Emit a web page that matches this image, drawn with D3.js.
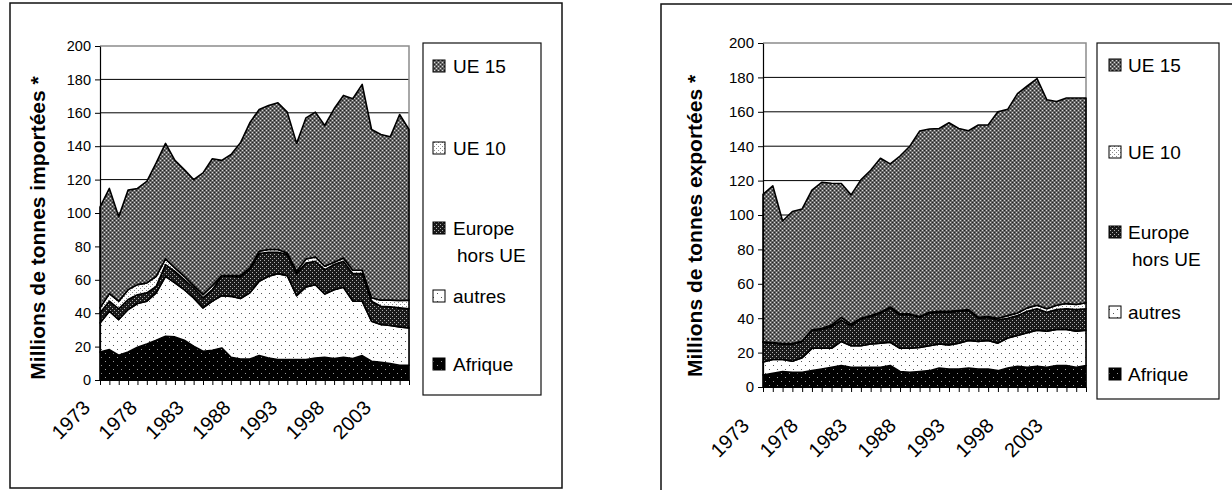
<!DOCTYPE html>
<html><head><meta charset="utf-8">
<script src="https://cdn.jsdelivr.net/npm/d3@7"></script>
<style>
body{margin:0;background:#fff}
svg text{font-family:"Liberation Sans",Arial,Helvetica,sans-serif;fill:#000}
</style>
</head><body>
<svg id="chart" width="1232" height="490"></svg>
<script>
// ---------- DATA ----------
const years = [1973,1974,1975,1976,1977,1978,1979,1980,1981,1982,1983,1984,1985,1986,1987,1988,1989,1990,1991,1992,1993,1994,1995,1996,1997,1998,1999,2000,2001,2002,2003,2004,2005,2006];
const yTicks = [0,20,40,60,80,100,120,140,160,180,200];
const xLabelYears = [1973,1978,1983,1988,1993,1998,2003];
const keys = ["Afrique","autres","Europe hors UE","UE 10","UE 15"];
const legendOrder = ["UE 15","UE 10","Europe hors UE","autres","Afrique"];

// Imports (millions de tonnes)
const impAfrique = [16.8,18.2,14.8,16.8,19.6,21.6,23.8,26.2,25.8,23.8,20.2,17.2,17.8,19.2,13.6,12.6,12.6,14.6,13.2,12.2,12.2,12.2,12.2,13.2,13.6,12.8,13.6,12.8,14.6,11.2,10.6,9.8,8.8,8.8];
const impAutres  = [17.4,23.0,21.4,25.4,26.2,25.6,28.4,35.9,32.3,30.3,29.0,26.0,29.4,31.3,36.5,36.2,39.6,44.5,48.9,51.5,50.3,38.3,43.5,43.9,37.9,41.3,41.9,34.4,32.6,24.0,22.6,22.8,23.0,22.4];
const impEurope  = [6.0,6.0,6.4,6.0,5.3,5.0,3.9,7.0,7.0,6.0,5.9,6.0,6.9,11.6,12.0,12.9,13.9,16.6,14.4,12.8,12.6,13.2,14.4,14.0,14.6,15.0,15.6,16.5,16.5,12.0,11.0,11.2,11.4,11.4];
const impUE10    = [3.0,4.5,4.6,5.9,6.0,5.9,6.0,3.4,2.0,2.0,1.4,1.9,2.4,0.4,0.4,0.8,1.0,1.4,1.6,1.6,1.0,1.4,2.4,2.6,2.0,1.4,2.0,2.0,2.0,2.0,3.6,4.0,4.4,5.2];
const impUE15    = [60.3,63.0,50.5,59.6,57.6,60.9,67.9,69.2,64.4,63.9,63.5,72.9,76.0,69.0,72.5,79.5,86.9,84.9,86.3,87.9,84.3,76.6,84.5,86.7,84.3,91.9,97.3,102.7,111.3,100.8,99.2,97.8,111.4,102.2];

// Exports (millions de tonnes)
const expAfrique = [7,8,9,8.5,8.5,9.5,10.5,11.5,12.5,11.5,11.5,11.5,11.5,12.5,9,8.5,9,9.5,11,10.5,10.5,11,10.5,10.5,9.5,11,12,11.5,12,11.5,12.5,12.5,11.5,12.5];
const expAutres  = [7.5,8,7,6.5,8.5,13,12,11,14,12.5,12.5,13.5,14,13.5,13.5,14,14,14.5,14,14,15,16,16,16.5,16,17.5,18,20,21,21,21,21,21,20.5];
const expEurope  = [11.5,9.5,9,10,9.5,10.5,11,12.5,12.5,11.5,15.5,16,17.5,20,19.5,19.5,17.5,19,18.5,19,18.5,17.5,13.5,13.5,13.5,11.5,11.5,12.5,12.5,11,11.5,12,12.5,12.5];
const expUE10    = [0.3,0.3,0.3,0.3,0.3,0.3,0.5,1,1.5,1,0.5,0.5,0.5,0.5,0.5,0.5,0.5,0.5,0.5,0.5,0.5,0.5,0.5,0.5,1,1.5,1.5,2,2,2,2.5,3,3,3.5];
const expUE15    = [85.7,91.2,71.2,76.7,76.7,81.2,85,82.5,77.8,75.2,80.4,84.5,89.5,83.2,91.8,97.5,107.8,106.5,106.3,109.6,105.8,104,111.8,111.3,120,119.9,127.6,129,131.8,121.5,118.5,119.5,120,119];

function buildRows(a,b,c,d,e){
  return years.map((yr,i)=>({year:yr,"Afrique":a[i],"autres":b[i],"Europe hors UE":c[i],"UE 10":d[i],"UE 15":e[i]}));
}
const importRows = buildRows(impAfrique,impAutres,impEurope,impUE10,impUE15);
const exportRows = buildRows(expAfrique,expAutres,expEurope,expUE10,expUE15);

// ---------- DRAW ----------
const svg = d3.select("#chart");
const defs = svg.append("defs");
function pattern(id,size,bg,dots){
  const p = defs.append("pattern").attr("id",id).attr("width",size).attr("height",size)
    .attr("patternUnits","userSpaceOnUse");
  p.append("rect").attr("width",size).attr("height",size).attr("fill",bg);
  dots.forEach(([x,y,c])=>p.append("rect").attr("x",x).attr("y",y).attr("width",1).attr("height",1).attr("fill",c));
}
pattern("pUE15",4,"#666666",[[0,0,"#d6d6d6"],[2,2,"#d6d6d6"],[0,2,"#222"],[2,0,"#222"]]);
pattern("pUE10",4,"#ffffff",[[0,0,"#8a8a8a"],[2,2,"#8a8a8a"]]);
pattern("pEur",4,"#1a1a1a",[[0,0,"#b0b0b0"],[2,2,"#b0b0b0"]]);
pattern("pAut",8,"#ffffff",[[1,1,"#555"],[5,5,"#555"]]);
pattern("pAfr",8,"#000000",[[1,1,"#9a9a9a"],[5,5,"#9a9a9a"]]);
const fills = {"UE 15":"url(#pUE15)","UE 10":"url(#pUE10)","Europe hors UE":"url(#pEur)","autres":"url(#pAut)","Afrique":"url(#pAfr)"};

function panel(cfg, rows){
  const g = svg.append("g");
  g.append("rect").attr("x",cfg.frame[0]).attr("y",cfg.frame[1]).attr("width",cfg.frame[2]).attr("height",cfg.frame[3])
    .attr("fill","none").attr("stroke","#111").attr("stroke-width",1.5);

  const x = d3.scalePoint().domain(years).range([cfg.x0,cfg.x1]);
  const y = d3.scaleLinear().domain([0,200]).range([cfg.yb,cfg.yt]);

  // gridlines
  g.selectAll("line.grid").data(yTicks.filter(v=>v>0&&v<200)).join("line").attr("class","grid")
    .attr("x1",cfg.x0).attr("x2",cfg.x1).attr("y1",d=>y(d)).attr("y2",d=>y(d))
    .attr("stroke","#000").attr("stroke-width",1);
  g.append("path").attr("d",`M${cfg.x0},${y(200)}H${cfg.x1}V${y(0)}`)
    .attr("fill","none").attr("stroke","#8c8c8c").attr("stroke-width",1.5);

  const series = d3.stack().keys(keys)(rows);
  const area = d3.area().x(d=>x(d.data.year)).y0(d=>y(d[0])).y1(d=>y(d[1]));
  g.selectAll("path.area").data(series).join("path").attr("class","area")
    .attr("d",area).attr("fill",d=>fills[d.key])
    .attr("stroke","#000").attr("stroke-width",1.6).attr("stroke-linejoin","round");

  // y axis
  const ya = g.append("g").attr("transform",`translate(${cfg.x0},0)`)
    .call(d3.axisLeft(y).tickValues(yTicks).tickSize(5).tickSizeOuter(0).tickPadding(4));
  ya.select(".domain").attr("stroke","#000").attr("stroke-width",1.2);
  ya.selectAll(".tick line").attr("stroke","#000");
  ya.selectAll(".tick text").style("font-size",cfg.tickFont+"px").attr("font-family",null);

  // x axis
  const xa = g.append("g").attr("transform",`translate(0,${cfg.yb})`)
    .call(d3.axisBottom(x).tickSize(5).tickSizeOuter(0).tickFormat(d=>xLabelYears.includes(d)?String(d):""));
  xa.attr("text-anchor",null);
  xa.select(".domain").attr("stroke","#000").attr("stroke-width",1.2);
  xa.selectAll(".tick line").attr("stroke","#000");
  xa.selectAll(".tick text").style("font-size",cfg.xFont+"px").style("text-anchor","end").attr("font-family",null)
    .attr("x",0).attr("y",0).attr("dy","0.35em")
    .attr("transform",`translate(${cfg.lblDx},${cfg.lblDy}) rotate(-45)`);

  // y title
  g.append("text").attr("transform",`translate(${cfg.titleX},${cfg.titleY}) rotate(-90)`)
    .attr("text-anchor","middle").attr("dy","0.35em")
    .style("font-size",cfg.titleFont+"px").style("font-weight","bold").text(cfg.title);

  // legend
  const L = cfg.legend;
  g.append("rect").attr("x",L.x).attr("y",L.y).attr("width",L.w).attr("height",L.h)
    .attr("fill","#fff").attr("stroke","#111").attr("stroke-width",1.2);
  legendOrder.forEach((k,i)=>{
    const cy = L.rows[i];
    g.append("rect").attr("x",L.x+L.sym).attr("y",cy-6).attr("width",12).attr("height",12)
      .attr("fill",fills[k]).attr("stroke","#000").attr("stroke-width",1);
    const t = g.append("text").attr("x",L.x+L.txt).attr("y",cy).attr("dy","0.36em")
      .style("font-size",L.font+"px");
    if(k==="Europe hors UE"){
      t.text("Europe");
      g.append("text").attr("x",L.x+L.txt+4).attr("y",cy+L.line2).attr("dy","0.36em")
        .style("font-size",L.font+"px").text("hors UE");
    } else t.text(k);
  });
}

panel({frame:[10,3,552,485],x0:100,x1:409,yt:46,yb:380,tickFont:14.5,xFont:20,lblDx:-14,lblDy:24,
  title:"Millions de tonnes importées *",titleX:38,titleY:228,titleFont:21,
  legend:{x:423,y:43,w:118,h:352,sym:10,txt:30,font:19,line2:27,rows:[66,148,228,296,364]}}, importRows);

panel({frame:[661,4,620,600],x0:763,x1:1086,yt:43,yb:387,tickFont:15,xFont:20,lblDx:-18,lblDy:35,
  title:"Millions de tonnes exportées *",titleX:695,titleY:226,titleFont:21,
  legend:{x:1097,y:43,w:122,h:356,sym:12,txt:31,font:19,line2:27,rows:[65,152,232,312,374]}}, exportRows);
</script>
</body></html>
